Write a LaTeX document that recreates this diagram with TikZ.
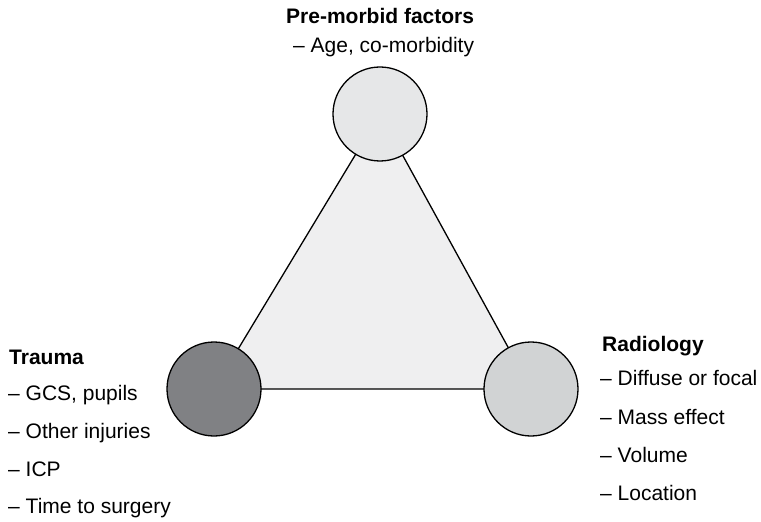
\documentclass[tikz,border=0pt]{standalone}
\usepackage{fontspec}
\setmainfont{Liberation Sans}
\usetikzlibrary{backgrounds}
\definecolor{topfill}{HTML}{E6E7E8}
\definecolor{leftfill}{HTML}{808184}
\definecolor{rightfill}{HTML}{D1D3D4}
\definecolor{trifill}{HTML}{EFEFF0}
\begin{document}
\begin{tikzpicture}[x=1bp,y=-1bp,
  factor/.style={circle,draw=black,line width=1.3bp,minimum size=94bp,inner sep=0pt},
  lbl/.style={anchor=base west,inner sep=0pt,font=\fontsize{21bp}{25bp}\selectfont},
  head/.style={lbl,font=\fontsize{21bp}{25bp}\selectfont\bfseries}]
\useasboundingbox (0,0) rectangle (761,522);
\node[factor,fill=topfill] (pre) at (380,114) {};
\node[factor,fill=leftfill] (trauma) at (214,389) {};
\node[factor,fill=rightfill] (radio) at (531,389) {};
\begin{scope}[on background layer]
\filldraw[fill=trifill,draw=black,line width=1.3bp,line join=miter] (pre.center) -- (trauma.center) -- (radio.center) -- cycle;
\end{scope}
\node[head] (preh) at (286,24) {Pre-morbid factors};
\node[lbl] (pre1) at (293,53) {– Age, co-morbidity};
\node[head] (trh) at (9,364) {Trauma};
\node[lbl] (tr1) at (8,400) {– GCS, pupils};
\node[lbl] (tr2) at (8,438) {– Other injuries};
\node[lbl] (tr3) at (8,476) {– ICP};
\node[lbl] (tr4) at (8,513) {– Time to surgery};
\node[head] (rah) at (602,351) {Radiology};
\node[lbl] (ra1) at (600,385) {– Diffuse or focal};
\node[lbl] (ra2) at (600,424) {– Mass effect};
\node[lbl] (ra3) at (600,462) {– Volume};
\node[lbl] (ra4) at (600,500) {– Location};
\end{tikzpicture}
\end{document}
